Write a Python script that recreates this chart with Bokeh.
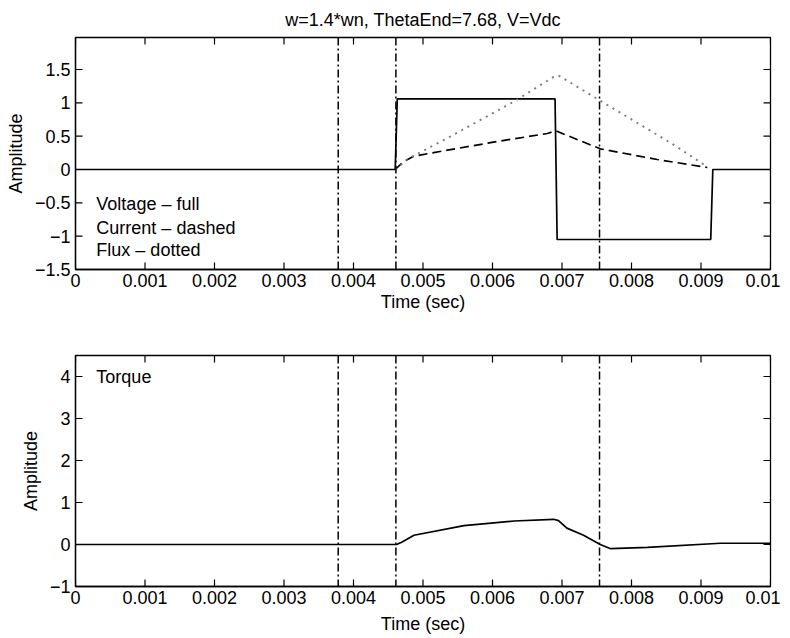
import math
from bokeh.plotting import figure
from bokeh.layouts import column
from bokeh.models import Span, Label, FixedTicker, Range1d
from bokeh.embed import file_html
from bokeh.resources import INLINE

# ---------------- data ----------------
title_text = "w=1.4*wn, ThetaEnd=7.68, V=Vdc"

t_voltage = [0.0, 0.00460, 0.00463, 0.00690, 0.00693, 0.00914, 0.00917, 0.0100]
voltage = [0.0, 0.0, 1.06, 1.06, -1.05, -1.05, 0.0, 0.0]

t_current = [0.00460, 0.00472, 0.00487, 0.00535, 0.00607, 0.00679, 0.00691, 0.00755, 0.00837, 0.00909]
current = [0.0, 0.12, 0.20, 0.29, 0.42, 0.54, 0.58, 0.31, 0.15, 0.03]

t_flux = [0.00460, 0.00480, 0.00535, 0.00631, 0.00688, 0.00695, 0.00765, 0.00861, 0.00909]
flux = [0.0, 0.17, 0.47, 1.02, 1.39, 1.41, 0.97, 0.37, 0.04]

t_torque = [0.0, 0.00462, 0.00470, 0.00487, 0.00559, 0.00631, 0.00688, 0.00695,
            0.00707, 0.00731, 0.00755, 0.00770, 0.00823, 0.00928, 0.0100]
torque = [0.0, 0.0, 0.06, 0.22, 0.45, 0.56, 0.60, 0.57, 0.39, 0.22, 0.0, -0.10, -0.07, 0.03, 0.03]

markers = [0.00378, 0.00461, 0.00754]

x_range_vals = (0.0, 0.01)
y1_range_vals = (-1.5, 1.98)
y2_range_vals = (-1.0, 4.5)

x_ticks = [0.0, 0.001, 0.002, 0.003, 0.004, 0.005, 0.006, 0.007, 0.008, 0.009, 0.01]
x_tick_labels = ["0", "0.001", "0.002", "0.003", "0.004", "0.005", "0.006", "0.007", "0.008", "0.009", "0.01"]
y1_ticks = [-1.5, -1.0, -0.5, 0.0, 0.5, 1.0, 1.5]
y1_tick_labels = ["\u22121.5", "\u22121", "\u22120.5", "0", "0.5", "1", "1.5"]
y2_ticks = [-1, 0, 1, 2, 3, 4]
y2_tick_labels = ["\u22121", "0", "1", "2", "3", "4"]

legend_lines = ["Voltage \u2013 full", "Current \u2013 dashed", "Flux \u2013 dotted"]
legend_y = [-0.52, -0.87, -1.20]
legend_x = 0.0003
torque_label = "Torque"
torque_label_pos = (0.0003, 4.0)

FONT = "Liberation Sans"
TICK_FS = "18px"
LABEL_FS = "18px"
TEXT_FS = "18px"


def style_fig(p, yticks, ylabels, yr, xlabel_standoff):
    p.xgrid.visible = False
    p.ygrid.visible = False
    p.outline_line_color = "black"
    p.outline_line_width = 1.3
    p.background_fill_color = "white"
    p.border_fill_color = "white"

    xa = p.xaxis[0]
    xa.ticker = FixedTicker(ticks=x_ticks)
    xa.major_label_overrides = {k: v for k, v in zip(x_ticks, x_tick_labels)}
    ya = p.yaxis[0]
    ya.ticker = FixedTicker(ticks=yticks)
    ya.major_label_overrides = {k: v for k, v in zip(yticks, ylabels)}
    for ax in (xa, ya):
        ax.major_tick_in = 0
        ax.major_tick_out = 0
        ax.minor_tick_line_color = None
        ax.axis_line_color = "black"
        ax.axis_line_width = 1.3
        ax.major_label_text_font = FONT
        ax.major_label_text_font_size = TICK_FS
        ax.major_label_text_color = "black"
        ax.axis_label_text_font = FONT
        ax.axis_label_text_font_size = LABEL_FS
        ax.axis_label_text_font_style = "normal"
        ax.axis_label_text_color = "black"
    xa.major_label_standoff = 4
    xa.axis_label_standoff = xlabel_standoff
    ya.major_label_standoff = 5
    ya.axis_label_standoff = 6

    # inward box ticks on all four sides (drawn through the data scales, clipped by frame)
    n = len(x_ticks)
    p.scatter(x_ticks, [yr[0]] * n, marker="dash", size=14, angle=math.pi / 2,
              line_color="black", line_width=1.2)
    p.scatter(x_ticks, [yr[1]] * n, marker="dash", size=14, angle=math.pi / 2,
              line_color="black", line_width=1.2)
    m = len(yticks)
    p.scatter([x_range_vals[0]] * m, yticks, marker="dash", size=14,
              line_color="black", line_width=1.2)
    p.scatter([x_range_vals[1]] * m, yticks, marker="dash", size=14,
              line_color="black", line_width=1.2)

    for mk in markers:
        p.add_layout(Span(location=mk, dimension="height", line_color="black",
                          line_width=1.5, line_dash="8 3 2 3"))


# ---------------- top figure ----------------
p1 = figure(width=780, height=320, output_backend="svg", toolbar_location=None,
            x_range=Range1d(*x_range_vals), y_range=Range1d(*y1_range_vals),
            min_border_left=75, min_border_right=10, min_border_top=36, min_border_bottom=51,
            x_axis_label="Time (sec)", y_axis_label="Amplitude", title=title_text)
p1.title.align = "center"
p1.title.text_font = FONT
p1.title.text_font_size = "18px"
p1.title.text_font_style = "normal"
p1.title.text_color = "black"
p1.title.standoff = 15
style_fig(p1, y1_ticks, y1_tick_labels, y1_range_vals, 2)

p1.line(t_voltage, voltage, line_color="black", line_width=1.7)
p1.line(t_current, current, line_color="black", line_width=1.7, line_dash="9 5")
p1.line(t_flux, flux, line_color="#7a7a7a", line_width=1.9, line_dash="2 5")

for txt, ly in zip(legend_lines, legend_y):
    p1.add_layout(Label(x=legend_x, y=ly, text=txt,
                        text_font=FONT, text_font_size=TEXT_FS, text_color="black",
                        text_baseline="middle"))

# ---------------- bottom figure ----------------
p2 = figure(width=780, height=316, output_backend="svg", toolbar_location=None,
            x_range=Range1d(*x_range_vals), y_range=Range1d(*y2_range_vals),
            min_border_left=75, min_border_right=10, min_border_top=35, min_border_bottom=50,
            x_axis_label="Time (sec)", y_axis_label="Amplitude")
style_fig(p2, y2_ticks, y2_tick_labels, y2_range_vals, 7)
p2.line(t_torque, torque, line_color="black", line_width=1.7)
p2.add_layout(Label(x=torque_label_pos[0], y=torque_label_pos[1], text=torque_label,
                    text_font=FONT, text_font_size=TEXT_FS, text_color="black",
                    text_baseline="middle"))

layout = column(p1, p2, spacing=0)
open("out.html", "w").write(file_html(layout, INLINE))
